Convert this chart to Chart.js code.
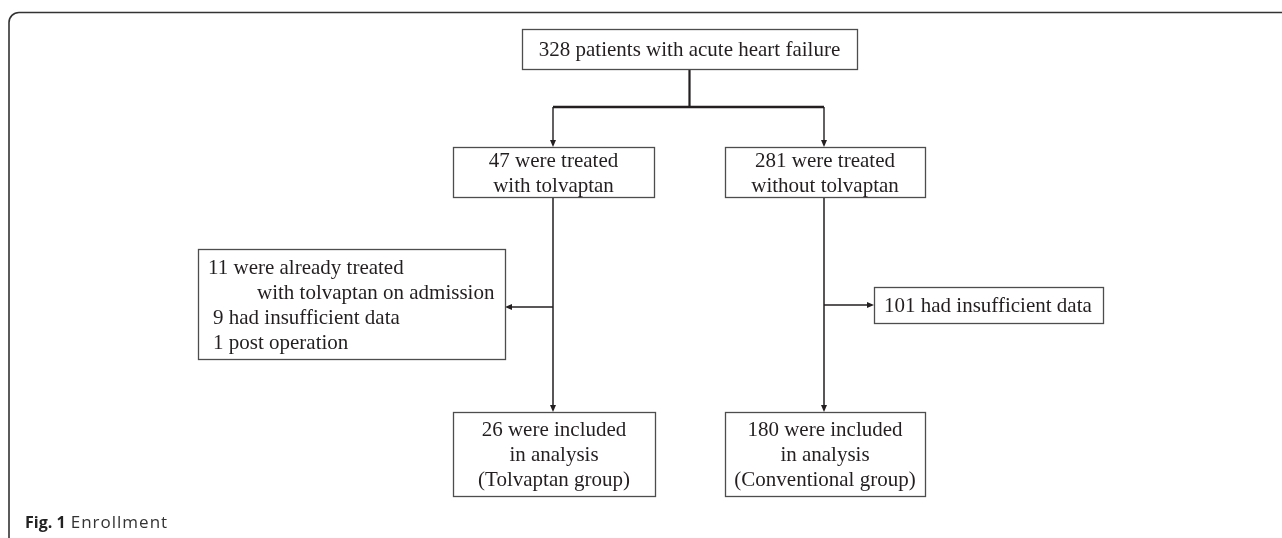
<!DOCTYPE html>
<html>
<head>
<meta charset="utf-8">
<script src="https://cdn.jsdelivr.net/npm/chart.js@4.4.1/dist/chart.umd.min.js"></script>
<style>
  html, body { margin: 0; padding: 0; background: #fff; }
  #wrap { width: 1282px; height: 538px; }
</style>
</head>
<body>
<div id="wrap"><canvas id="flow" width="1282" height="538"></canvas></div>
<script>
// --- DATA ---
const totalPatients = [328];
const armCounts = [47, 281];
const armLabels = ['with tolvaptan', 'without tolvaptan'];
const excludedTolvaptan = [11, 9, 1];
const excludedTolvaptanReasons = ['were already treated', 'with tolvaptan on admission', 'had insufficient data', 'post operation'];
const excludedConventional = [101];
const excludedConventionalReasons = ['had insufficient data'];
const includedCounts = [26, 180];
const groupNames = ['Tolvaptan group', 'Conventional group'];
const captionBold = 'Fig. 1';
const captionText = 'Enrollment';

// --- TEXT OF EACH NODE ---
const nodeLines = [
    [`${totalPatients[0]} patients with acute heart failure`],
    [`${armCounts[0]} were treated`, armLabels[0]],
    [`${armCounts[1]} were treated`, armLabels[1]],
    [`${excludedTolvaptan[0]} ${excludedTolvaptanReasons[0]}`, excludedTolvaptanReasons[1],
     `${excludedTolvaptan[1]} ${excludedTolvaptanReasons[2]}`, `${excludedTolvaptan[2]} ${excludedTolvaptanReasons[3]}`],
    [`${excludedConventional[0]} ${excludedConventionalReasons[0]}`],
    [`${includedCounts[0]} were included`, 'in analysis', `(${groupNames[0]})`],
    [`${includedCounts[1]} were included`, 'in analysis', `(${groupNames[1]})`]
];

// --- LAYOUT (axis units, 1 unit = 1 px) ---
const boxes = [
    { x0: 522, y0: 29,  x1: 857,  y1: 69,  align: 'center' },
    { x0: 453, y0: 147, x1: 654,  y1: 197, align: 'center' },
    { x0: 725, y0: 147, x1: 925,  y1: 197, align: 'center' },
    { x0: 198, y0: 249, x1: 505,  y1: 359, align: 'left', indents: [10, 59, 15, 15] },
    { x0: 874, y0: 287, x1: 1103, y1: 323, align: 'left', indents: [10] },
    { x0: 453, y0: 412, x1: 655,  y1: 496, align: 'center' },
    { x0: 725, y0: 412, x1: 925,  y1: 496, align: 'center' }
];
const columnX = [553, 824];
const branchY = 107;
const sideArrowY = [307, 305];
const lineHeight = 25;

const midX = b => (b.x0 + b.x1) / 2;
const midY = b => (b.y0 + b.y1) / 2;

// connectors: from, to, arrow head at the end, width
const connectors = [
    { a: [midX(boxes[0]), boxes[0].y1], b: [midX(boxes[0]), branchY], arrow: false, w: 2.2 },
    { a: [columnX[0], branchY], b: [columnX[1], branchY], arrow: false, w: 2.6 },
    { a: [columnX[0], branchY], b: [columnX[0], boxes[1].y0], arrow: true, w: 1.4 },
    { a: [columnX[1], branchY], b: [columnX[1], boxes[2].y0], arrow: true, w: 1.4 },
    { a: [columnX[0], boxes[1].y1], b: [columnX[0], boxes[5].y0], arrow: true, w: 1.5 },
    { a: [columnX[1], boxes[2].y1], b: [columnX[1], boxes[6].y0], arrow: true, w: 1.5 },
    { a: [columnX[0], sideArrowY[0]], b: [boxes[3].x1, sideArrowY[0]], arrow: true, w: 1.4 },
    { a: [columnX[1], sideArrowY[1]], b: [boxes[4].x0, sideArrowY[1]], arrow: true, w: 1.4 }
];

const INK = '#231f20';
const ARROW_LEN = 7;

// line datasets stop at the base of the arrow head
function lineData(c) {
    if (!c.arrow) return [{ x: c.a[0], y: c.a[1] }, { x: c.b[0], y: c.b[1] }];
    const dx = c.b[0] - c.a[0], dy = c.b[1] - c.a[1];
    const len = Math.hypot(dx, dy);
    return [{ x: c.a[0], y: c.a[1] },
            { x: c.b[0] - dx / len * (ARROW_LEN - 1), y: c.b[1] - dy / len * (ARROW_LEN - 1) }];
}

// --- DRAW BOXES, ARROW HEADS, FRAME, CAPTION ---
const flowPlugin = {
    id: 'flowPlugin',
    afterDatasetsDraw(chart) {
        const ctx = chart.ctx;
        const xs = chart.scales.x, ys = chart.scales.y;
        const px = v => xs.getPixelForValue(v);
        const py = v => ys.getPixelForValue(v);
        ctx.save();

        // frame
        ctx.strokeStyle = '#333';
        ctx.lineWidth = 1.6;
        ctx.beginPath();
        ctx.moveTo(px(9), py(545));
        ctx.lineTo(px(9), py(22.5));
        ctx.arcTo(px(9), py(12.5), px(19), py(12.5), 10);
        ctx.lineTo(px(1290), py(12.5));
        ctx.stroke();

        // arrow heads
        ctx.fillStyle = INK;
        connectors.filter(c => c.arrow).forEach(c => {
            const tx = px(c.b[0]), ty = py(c.b[1]);
            const ang = Math.atan2(py(c.b[1]) - py(c.a[1]), px(c.b[0]) - px(c.a[0]));
            ctx.beginPath();
            ctx.moveTo(tx, ty);
            ctx.lineTo(tx - ARROW_LEN * Math.cos(ang) + 3 * Math.sin(ang), ty - ARROW_LEN * Math.sin(ang) - 3 * Math.cos(ang));
            ctx.lineTo(tx - ARROW_LEN * Math.cos(ang) - 3 * Math.sin(ang), ty - ARROW_LEN * Math.sin(ang) + 3 * Math.cos(ang));
            ctx.closePath();
            ctx.fill();
        });

        // boxes and text
        boxes.forEach((b, i) => {
            ctx.fillStyle = '#fff';
            ctx.fillRect(px(b.x0), py(b.y0), px(b.x1) - px(b.x0), py(b.y1) - py(b.y0));
            ctx.strokeStyle = '#4d4d4d';
            ctx.lineWidth = 1.3;
            ctx.strokeRect(px(b.x0) + 0.5, py(b.y0) + 0.5, px(b.x1) - px(b.x0), py(b.y1) - py(b.y0));

            const lines = nodeLines[i];
            ctx.fillStyle = INK;
            ctx.font = '21px "Liberation Serif", "Times New Roman", serif';
            ctx.textBaseline = 'middle';
            const top = midY(b) + 1.5 - (lines.length - 1) * lineHeight / 2;
            lines.forEach((t, k) => {
                const y = py(top + k * lineHeight);
                if (b.align === 'center') {
                    ctx.textAlign = 'center';
                    ctx.fillText(t, px(midX(b)), y);
                } else {
                    ctx.textAlign = 'left';
                    ctx.fillText(t, px(b.x0 + b.indents[k]), y);
                }
            });
        });

        // caption
        ctx.textAlign = 'left';
        ctx.textBaseline = 'alphabetic';
        ctx.fillStyle = '#222';
        ctx.font = 'bold 16px "Open Sans", sans-serif';
        ctx.fillText(captionBold, px(25), py(528));
        const w = ctx.measureText(captionBold + ' ').width;
        ctx.font = '17px "Open Sans", sans-serif';
        ctx.letterSpacing = '1px';
        ctx.fillStyle = '#333';
        ctx.fillText(captionText, px(25) + w + 1, py(528));
        ctx.restore();
    }
};

// --- CHART ---
new Chart(document.getElementById('flow'), {
    type: 'scatter',
    data: {
        datasets: connectors.map(c => ({
            data: lineData(c),
            showLine: true,
            borderColor: INK,
            borderWidth: c.w,
            pointRadius: 0,
            fill: false,
            tension: 0
        }))
    },
    options: {
        responsive: false,
        animation: false,
        layout: { padding: 0 },
        plugins: { legend: { display: false }, tooltip: { enabled: false } },
        scales: {
            x: { type: 'linear', min: 0, max: 1282, display: false },
            y: { type: 'linear', min: 0, max: 538, reverse: true, display: false }
        }
    },
    plugins: [flowPlugin]
});
</script>
</body>
</html>
